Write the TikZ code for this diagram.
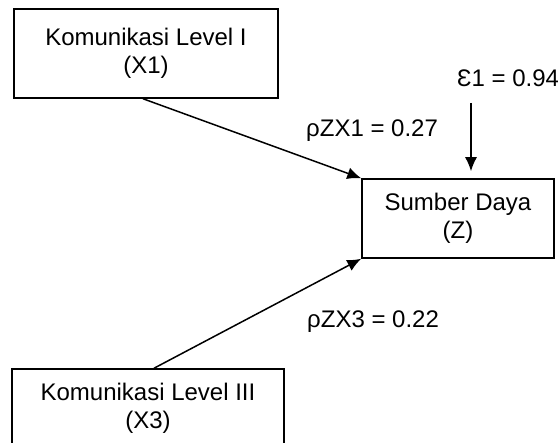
\documentclass[tikz,border=0pt]{standalone}
\usepackage{fontspec}
\setmainfont{Liberation Sans}
\usetikzlibrary{arrows.meta,calc}

\tikzset{
  varbox/.style={draw, line width=1.5pt, align=center, inner sep=0pt,
    font=\fontsize{24}{28}\selectfont},
  path/.style={line width=1.5pt, -{Latex[length=14pt,width=12pt]}},
  coef/.style={anchor=base west, inner sep=0pt, font=\fontsize{24}{28}\selectfont}
}

\begin{document}
\begin{tikzpicture}[x=1pt, y=-1pt]
  \useasboundingbox (0,0) rectangle (558,443);

  % exogenous and endogenous variables
  \node[varbox, minimum width=264pt, minimum height=89pt] (X1) at (146,53.5)
    {Komunikasi Level I\\(X1)};
  \node[varbox, minimum width=192pt, minimum height=79pt] (Z) at (458,218.5)
    {Sumber Daya\\(Z)};
  \node[varbox, minimum width=272pt, minimum height=78pt] (X3) at (148,408)
    {Komunikasi Level III\\(X3)};

  % path coefficients and residual
  \node[coef] (p1) at (306,137) {ρZX1 = 0.27};
  \node[coef] (p3) at (307,328) {ρZX3 = 0.22};
  \node[coef] (e1) at (457,86.5) {Ɛ1 = 0.94};
  \coordinate (etail) at (471,103);

  % paths
  \draw[path] ($(X1.south)+(-3,0)$) -- (Z.north west);
  \draw[path] ($(X3.north)+(6,0)$) -- (Z.south west);
  \draw[path] (etail) -- ($(etail |- Z.north)+(0,-7)$);
\end{tikzpicture}
\end{document}
